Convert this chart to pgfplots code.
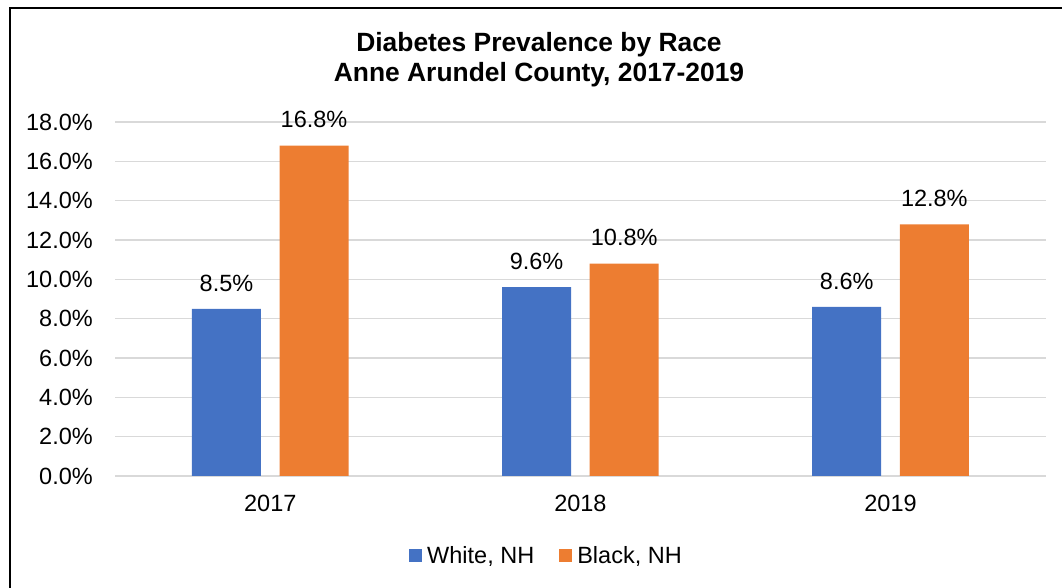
\documentclass[border=0pt]{standalone}
\usepackage{pgfplots}
\pgfplotsset{compat=1.18}
\usepackage{fontspec}
\setmainfont{Liberation Sans}

\definecolor{barblue}{HTML}{4472C4}
\definecolor{barorange}{HTML}{ED7D31}
\definecolor{gridgray}{HTML}{D9D9D9}

\newcommand{\lblfont}{\fontsize{11.75}{14}\selectfont}
\newcommand{\ttlfont}{\fontsize{13.2}{15}\selectfont\bfseries}

\begin{document}
\begin{tikzpicture}[x=1pt,y=1pt]
\useasboundingbox (0,0) rectangle (531,294);
% frame (left and top edges)
\draw[black, line width=1.1pt] (4.85,-2) -- (4.85,290.1) -- (535,290.1);

% title
\node[anchor=base, font=\ttlfont] at (269.5,268) {Diabetes Prevalence by Race};
\node[anchor=base, font=\ttlfont] at (269.5,253) {Anne Arundel County, 2017-2019};

\begin{axis}[
  at={(57.6pt,56pt)}, anchor=south west,
  scale only axis,
  width=465.2pt, height=177pt,
  ybar,
  bar width=0.2225,
  xmin=-0.5, xmax=2.5,
  ymin=0, ymax=18,
  xtick={0,1,2},
  xticklabels={2017,2018,2019},
  ytick={0,2,...,18},
  /pgf/number format/assume math mode=true,
  yticklabel={\pgfmathprintnumber[fixed,fixed zerofill,precision=1]{\tick}\%},
  axis line style={draw=none},
  major tick length=0pt,
  ymajorgrids,
  grid style={gridgray, line width=0.8pt},
  tick label style={font=\lblfont, inner sep=0pt},
  yticklabel style={anchor=east, xshift=-11pt},
  xticklabel style={anchor=north, yshift=-9.5pt},
  nodes near coords={\pgfmathprintnumber[fixed,fixed zerofill,precision=1]{\pgfplotspointmeta}\%},
  every node near coord/.append style={font=\lblfont, black, anchor=south, inner sep=0pt, yshift=8.5pt},
  legend columns=2,
  legend style={
    at={(0.4625,-0.226)}, anchor=center,
    draw=none, fill=none, font=\lblfont,
    inner sep=0pt,
    nodes={inner sep=0pt, anchor=west},
    /tikz/every even column/.append style={column sep=12.5pt},
  },
  legend image code/.code={\fill[#1] (0pt,-3.25pt) rectangle (6.5pt,3.25pt);},
]
\addplot[fill=barblue, draw=none, bar shift=-0.1412] coordinates {(0,8.5) (1,9.6) (2,8.6)};
\addlegendentry{\hspace{2.5pt}White, NH}
\addplot[fill=barorange, draw=none, bar shift=0.1412] coordinates {(0,16.8) (1,10.8) (2,12.8)};
\addlegendentry{\hspace{2.5pt}Black, NH}
\end{axis}
\end{tikzpicture}
\end{document}
